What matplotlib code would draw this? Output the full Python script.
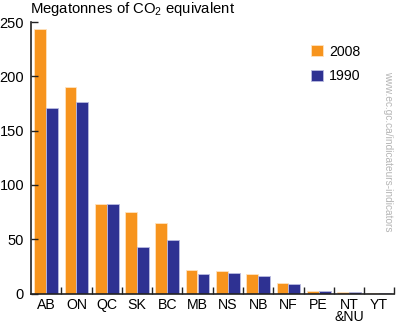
import matplotlib
matplotlib.use("Agg")
import matplotlib.pyplot as plt
import numpy as np

plt.rcParams['font.family'] = ['Liberation Sans', 'DejaVu Sans']
plt.rcParams['mathtext.fontset'] = 'custom'
plt.rcParams['mathtext.rm'] = 'Liberation Sans'
plt.rcParams['mathtext.default'] = 'regular'

provinces = ["AB", "ON", "QC", "SK", "BC", "MB", "NS", "NB", "NF", "PE", "NT\n&NU", "YT"]
values_2008 = [244, 190, 82, 75, 65, 21.5, 21, 18, 10, 2, 1.5, 0.5]
values_1990 = [171, 176, 82.5, 43, 49, 18, 19, 16, 9, 2, 1.5, 0.5]
yticks = [0, 50, 100, 150, 200, 250]
series_labels = ["2008", "1990"]

orange = "#F7941D"
blue = "#2E3192"

fig = plt.figure(figsize=(4.0, 3.24), dpi=100)
ax = fig.add_axes([0.0775, 0.094, 0.986 - 0.0775, 0.932 - 0.094])

x = np.arange(len(provinces))
w = 0.39
ax.bar(x - 0.197, values_2008, w, color=orange, edgecolor="#FFE3BF", linewidth=0.6, label=series_labels[0])
ax.bar(x + 0.197, values_1990, w, color=blue, edgecolor="#B9BBE0", linewidth=0.6, label=series_labels[1])

ax.set_xlim(-0.5, len(provinces) - 0.5)
ax.set_ylim(0, 250)
ax.set_yticks(yticks)
ax.set_yticklabels([str(v) for v in yticks], fontsize=10.5)
ax.set_xticks(x)
ax.set_xticklabels(provinces, fontsize=10.2, linespacing=0.82)
ax.tick_params(axis='x', which='major', length=0, pad=3)
ax.set_xticks(np.arange(0.5, len(provinces), 1.0), minor=True)
ax.tick_params(axis='x', which='minor', direction='in', length=5, width=1, color='#222222')
ax.tick_params(axis='y', direction='in', length=5, width=1, pad=5, color='#222222')
for s in ['top', 'right']:
    ax.spines[s].set_visible(False)
for s in ['left', 'bottom']:
    ax.spines[s].set_linewidth(1.2)
    ax.spines[s].set_color('#222222')

ax.legend(loc='upper left', bbox_to_anchor=(0.736, 0.963), frameon=False, fontsize=10.2,
          handlelength=0.8, handleheight=0.8, handletextpad=0.45, labelspacing=0.75)

fig.text(30 / 400, 1 - 13.5 / 324, "Megatonnes of CO$_2$ equivalent", fontsize=10.7, va='baseline', ha='left')
fig.text(388 / 400, 1 - 151 / 324, "www.ec.gc.ca/indicateurs-indicators", rotation=270, fontsize=7.3,
         color='#b5b5b5', ha='center', va='center')

fig.savefig("out.png", dpi=100)
